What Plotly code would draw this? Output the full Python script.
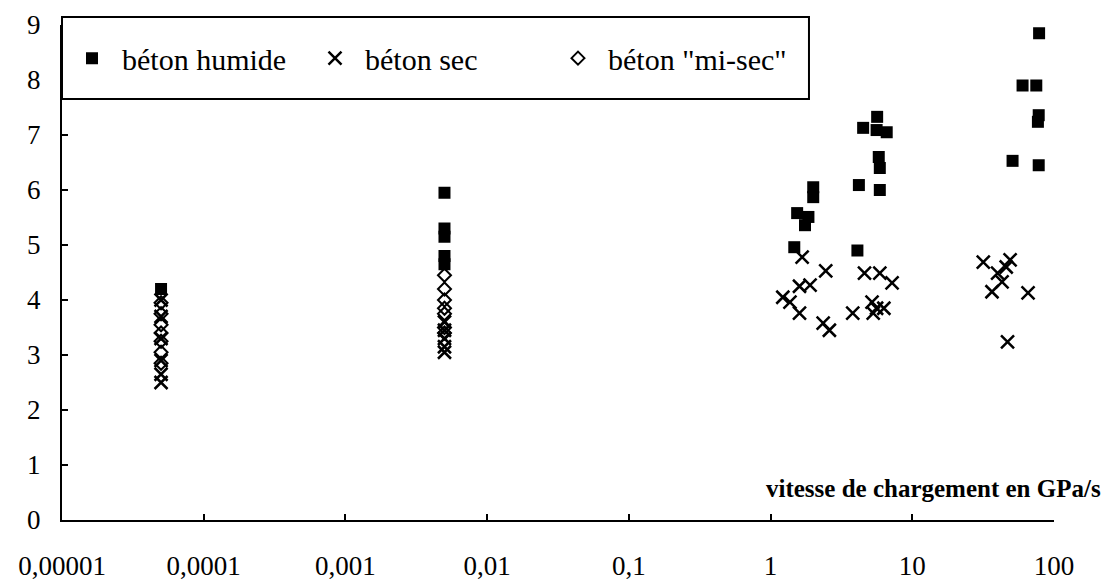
import plotly.graph_objects as go

# Loading rate (GPa/s) and strength values for the three concrete states
x_humide = [5e-5,
            5e-3, 5e-3, 5e-3, 5e-3, 5e-3,
            1.47, 1.54, 1.85, 1.75, 2.0, 2.0,
            4.1, 4.2, 4.5, 5.65, 5.6, 6.6, 5.8, 5.9, 5.9,
            51, 60, 75, 77, 78, 78, 78.5]
y_humide = [4.2,
            5.95, 5.3, 5.15, 4.8, 4.65,
            4.96, 5.58, 5.51, 5.36, 6.05, 5.87,
            4.9, 6.09, 7.13, 7.33, 7.09, 7.05, 6.6, 6.4, 6.0,
            6.53, 7.9, 7.9, 7.24, 7.36, 6.45, 8.85]

x_sec = [5e-5, 5e-5, 5e-5, 5e-5, 5e-5, 5e-5,
         5e-3, 5e-3, 5e-3, 5e-3, 5e-3,
         1.67, 2.45, 1.6, 1.9, 1.22, 1.37, 1.6, 2.35, 2.6,
         4.6, 5.9, 7.2, 3.8, 5.2, 5.6, 6.3, 5.3,
         31.7, 49, 40, 43, 36.5, 65.6, 47, 46]
y_sec = [4.0, 3.7, 3.3, 2.9, 2.65, 2.5,
         3.6, 3.45, 3.3, 3.15, 3.05,
         4.78, 4.53, 4.25, 4.27, 4.05, 3.96, 3.76, 3.58, 3.45,
         4.49, 4.49, 4.31, 3.76, 3.96, 3.85, 3.85, 3.76,
         4.69, 4.73, 4.49, 4.33, 4.15, 4.13, 3.24, 4.6]

x_misec = [5e-5, 5e-5, 5e-5, 5e-5, 5e-5, 5e-5, 5e-5,
           5e-3, 5e-3, 5e-3, 5e-3, 5e-3, 5e-3, 5e-3]
y_misec = [3.95, 3.75, 3.55, 3.4, 3.25, 3.05, 2.85,
           4.45, 4.2, 4.0, 3.85, 3.75, 3.5, 3.4]

x_tickvals = [1e-5, 1e-4, 1e-3, 1e-2, 1e-1, 1, 10, 100]
x_ticktext = ["0,00001", "0,0001", "0,001", "0,01", "0,1", "1", "10", "100"]
y_tickvals = [0, 1, 2, 3, 4, 5, 6, 7, 8, 9]

FONT = "Liberation Serif"

fig = go.Figure()
fig.add_trace(go.Scatter(
    x=x_humide, y=y_humide, mode="markers", name="béton humide",
    marker=dict(symbol="square", size=12, color="black",
                line=dict(width=0))))
fig.add_trace(go.Scatter(
    x=x_sec, y=y_sec, mode="markers", name="béton sec",
    marker=dict(symbol="x-thin", size=13, color="black",
                line=dict(width=2.5, color="black"))))
fig.add_trace(go.Scatter(
    x=x_misec, y=y_misec, mode="markers", name='béton "mi-sec"',
    marker=dict(symbol="diamond-open", size=10, color="black",
                line=dict(width=2, color="black"))))

# Framed legend box
fig.add_shape(type="rect", xref="paper", yref="paper",
              x0=0, x1=0.753, y0=0.8505, y1=1.016,
              fillcolor="white", line=dict(color="black", width=2),
              layer="above")

fig.add_annotation(text="<b>vitesse de chargement en GPa/s</b>",
                   xref="paper", yref="paper", x=1.0494, y=0.063,
                   xanchor="right", yanchor="middle", showarrow=False,
                   font=dict(family=FONT, size=25, color="black"))

fig.update_layout(
    width=1116, height=583,
    margin=dict(l=62, r=62, t=25, b=63, autoexpand=False),
    paper_bgcolor="white", plot_bgcolor="white",
    font=dict(family=FONT, color="black"),
    showlegend=True,
    legend=dict(orientation="h", x=0.0, y=0.933, xanchor="left",
                yanchor="middle", bgcolor="rgba(0,0,0,0)", borderwidth=0,
                font=dict(family=FONT, size=30, color="black"),
                entrywidth=178, entrywidthmode="pixels", itemwidth=50),
)
fig.update_xaxes(type="log", range=[-5, 2], tickvals=x_tickvals,
                 ticktext=x_ticktext, showgrid=False, zeroline=False,
                 automargin=False,
                 showline=True, linecolor="black", linewidth=2,
                 ticks="inside", ticklen=6, tickwidth=1.5, tickcolor="black",
                 ticklabelstandoff=21,
                 tickfont=dict(family=FONT, size=27, color="black"))
fig.update_yaxes(range=[0, 9], tickvals=y_tickvals, showgrid=False,
                 zeroline=False, automargin=False,
                 showline=True, linecolor="black",
                 linewidth=2, ticks="inside", ticklen=6, tickwidth=1.5,
                 tickcolor="black", ticklabelstandoff=14,
                 tickfont=dict(family=FONT, size=27, color="black"))

fig.write_html("out.html")
